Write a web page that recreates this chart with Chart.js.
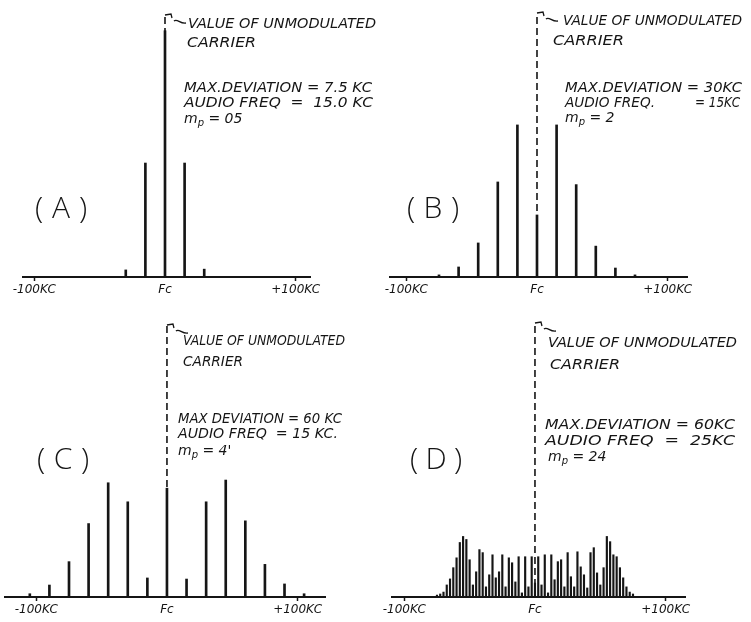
<!DOCTYPE html>
<html><head><meta charset="utf-8">
<script src="https://cdn.jsdelivr.net/npm/chart.js@4.4.1/dist/chart.umd.min.js"></script>
<style>
html,body{margin:0;padding:0;background:#fff;}
#wrap{position:relative;width:751px;height:622px;overflow:hidden;background:#fff;}
#wrap canvas{position:absolute;left:0;top:0;}
</style></head><body><div id="wrap"></div>
<script>
// ---------- DATA ----------
const tickValues = [-100, 0, 100];
const tickLabels = ['-100KC', 'Fc', '+100KC'];

// amplitudes relative to the unmodulated carrier (= 1), frequency offsets in kc
const freqA = [-30, -15, 0, 15, 30];
const ampA  = [0.027, 0.435, 0.94, 0.435, 0.03];

const freqB = [-75, -60, -45, -30, -15, 0, 15, 30, 45, 60, 75];
const ampB  = [0.008, 0.038, 0.129, 0.36, 0.576, 0.235, 0.576, 0.35, 0.117, 0.034, 0.008];

const freqC = [-105, -90, -75, -60, -45, -30, -15, 0, 15, 30, 45, 60, 75, 90, 105];
const ampC  = [0.012, 0.044, 0.13, 0.27, 0.42, 0.35, 0.07, 0.40, 0.066, 0.35, 0.43, 0.28, 0.12, 0.048, 0.012];

const freqD = [-75, -72.5, -70, -67.5, -65, -62.5, -60, -57.5, -55, -52.5, -50, -47.5, -45, -42.5, -40, -37.5,
  -35, -32.5, -30, -27.5, -25, -22.5, -20, -17.5, -15, -12.5, -10, -7.5, -5, -2.5, 0,
  2.5, 5, 7.5, 10, 12.5, 15, 17.5, 20, 22.5, 25, 27.5, 30, 32.5, 35, 37.5, 40, 42.5, 45,
  47.5, 50, 52.5, 55, 57.5, 60, 62.5, 65, 67.5, 70, 72.5, 75];
const ampD  = [0.007, 0.011, 0.018, 0.044, 0.066, 0.107, 0.143, 0.199, 0.221, 0.21, 0.136, 0.044, 0.092, 0.173, 0.162, 0.037,
  0.081, 0.154, 0.07, 0.092, 0.154, 0.037, 0.143, 0.125, 0.055, 0.147, 0.015, 0.147, 0.037, 0.147, 0.051,
  0.147, 0.044, 0.154, 0.015, 0.154, 0.063, 0.129, 0.136, 0.037, 0.162, 0.074, 0.037, 0.165, 0.11, 0.081, 0.033, 0.162,
  0.18, 0.088, 0.044, 0.107, 0.221, 0.202, 0.154, 0.147, 0.107, 0.07, 0.037, 0.018, 0.011];

const carrierLine = [{x: 0, y: 0}, {x: 0, y: 1}];

// ---------- STYLE / LAYOUT ----------
const INK = '#151515';
const TXT = 'italic 14px "DejaVu Sans", sans-serif';

const panels = [
  { letter: 'A', freq: freqA, amp: ampA, xmin: -108.6, xmax: 110.9, bar: 2,
    pad: {left: 23, right: 441, top: 15, bottom: 325},
    lab: {x: 61, y: 209},
    lines: [
      {t: 'VALUE OF UNMODULATED', x: 188, y: 28, w: 188},
      {t: 'CARRIER', x: 187, y: 47, w: 69},
      {t: 'MAX.DEVIATION = 7.5 KC', x: 184, y: 92, w: 188},
      {t: 'AUDIO FREQ  =  15.0 KC', x: 184, y: 107, w: 189},
      {mp: ' = 05', x: 184, y: 123}
    ]},
  { letter: 'B', freq: freqB, amp: ampB, xmin: -112.5, xmax: 114.8, bar: 2,
    pad: {left: 390, right: 64, top: 13, bottom: 325},
    lab: {x: 433, y: 209},
    lines: [
      {t: 'VALUE OF UNMODULATED', x: 563, y: 25, w: 179},
      {t: 'CARRIER', x: 553, y: 45, w: 71},
      {t: 'MAX.DEVIATION = 30KC', x: 565, y: 92, w: 177},
      {t: 'AUDIO FREQ.', x: 565, y: 107, w: 90},
      {t: '= 15KC', x: 695, y: 107, w: 45},
      {mp: ' = 2', x: 565, y: 122}
    ]},
  { letter: 'C', freq: freqC, amp: ampC, xmin: -124, xmax: 121, bar: 2,
    pad: {left: 5, right: 426, top: 325, bottom: 5},
    lab: {x: 63, y: 460},
    lines: [
      {t: 'VALUE OF UNMODULATED', x: 183, y: 345, w: 162},
      {t: 'CARRIER', x: 183, y: 366, w: 60},
      {t: 'MAX DEVIATION = 60 KC', x: 178, y: 423, w: 164},
      {t: 'AUDIO FREQ  = 15 KC.', x: 178, y: 438, w: 160},
      {mp: ' = 4\'', x: 178, y: 455}
    ]},
  { letter: 'D', freq: freqD, amp: ampD, xmin: -109.4, xmax: 114.8, bar: 1.5,
    pad: {left: 392, right: 66, top: 323, bottom: 5},
    lab: {x: 436, y: 460},
    lines: [
      {t: 'VALUE OF UNMODULATED', x: 548, y: 347, w: 189},
      {t: 'CARRIER', x: 550, y: 369, w: 70},
      {t: 'MAX.DEVIATION = 60KC', x: 545, y: 429, w: 190},
      {t: 'AUDIO FREQ  =  25KC', x: 545, y: 445, w: 190},
      {mp: ' = 24', x: 548, y: 461}
    ]}
];

function scaledText(ctx, t, x, y, w) {
  const m = ctx.measureText(t).width;
  ctx.save();
  ctx.translate(x, y);
  ctx.scale(w / m, 1);
  ctx.fillText(t, 0, 0);
  ctx.restore();
}

const notesPlugin = {
  id: 'notes',
  afterDraw(chart, args, opts) {
    const p = opts.panel;
    const ctx = chart.ctx;
    const xs = chart.scales.x, ys = chart.scales.y;
    const cx = xs.getPixelForValue(0), ty = ys.getPixelForValue(1);
    ctx.save();
    ctx.strokeStyle = INK; ctx.fillStyle = INK; ctx.lineWidth = 1.3;
    // hook from carrier top to the note
    ctx.beginPath();
    ctx.moveTo(cx, ty); ctx.lineTo(cx + 6, ty - 1); ctx.lineTo(cx + 7, ty + 3);
    ctx.moveTo(cx + 9, ty + 6);
    ctx.bezierCurveTo(cx + 12, ty + 3, cx + 15, ty + 9, cx + 21, ty + 8);
    ctx.stroke();
    // notes
    ctx.font = TXT; ctx.textBaseline = 'alphabetic'; ctx.textAlign = 'left';
    p.lines.forEach(l => {
      if (l.mp !== undefined) {
        ctx.font = TXT;
        ctx.fillText('m', l.x, l.y);
        const mw = ctx.measureText('m').width;
        ctx.font = 'italic 10px "DejaVu Sans", sans-serif';
        ctx.fillText('p', l.x + mw, l.y + 3);
        const pw = ctx.measureText('p').width;
        ctx.font = TXT;
        ctx.fillText(l.mp, l.x + mw + pw, l.y);
      } else {
        scaledText(ctx, l.t, l.x, l.y, l.w);
      }
    });
    // panel letter
    ctx.font = '300 30px "Open Sans", Roboto, sans-serif';
    ctx.textAlign = 'center'; ctx.textBaseline = 'middle';
    ctx.fillText('(', p.lab.x - 22, p.lab.y);
    ctx.fillText(p.letter, p.lab.x, p.lab.y);
    ctx.fillText(')', p.lab.x + 22, p.lab.y);
    ctx.restore();
  }
};

const wrap = document.getElementById('wrap');
panels.forEach(p => {
  const cv = document.createElement('canvas');
  cv.width = 751; cv.height = 622;
  wrap.appendChild(cv);
  new Chart(cv, {
    type: 'bar',
    data: {
      datasets: [
        { type: 'bar', data: p.freq.map((f, i) => ({x: f, y: p.amp[i]})),
          backgroundColor: INK, borderWidth: 0, barThickness: p.bar, order: 1 },
        { type: 'line', data: carrierLine, borderColor: INK, borderWidth: 1.6,
          borderDash: [7, 4], pointRadius: 0, fill: false, order: 2, clip: false }
      ]
    },
    options: {
      responsive: false, animation: false, devicePixelRatio: 1, events: [],
      layout: { padding: p.pad },
      plugins: { legend: {display: false}, tooltip: {enabled: false}, notes: {panel: p} },
      scales: {
        x: {
          type: 'linear', min: p.xmin, max: p.xmax, offset: false,
          afterBuildTicks: ax => { ax.ticks = tickValues.map(v => ({value: v})); },
          afterFit: ax => { ax.height = 20; },
          ticks: { autoSkip: false, maxRotation: 0, padding: 2, color: INK,
                   font: {family: '"DejaVu Sans", sans-serif', style: 'italic', size: 12},
                   callback: (v, i) => tickLabels[i] },
          grid: { display: true, drawOnChartArea: false, drawTicks: true, offset: false,
                  tickLength: 4, tickWidth: 1.5,
                  tickColor: c => (c.tick && c.tick.value === 0) ? 'rgba(0,0,0,0)' : INK },
          border: { display: true, color: INK, width: 2 }
        },
        y: { display: false, min: 0, max: 1 }
      }
    },
    plugins: [notesPlugin]
  });
});
</script></body></html>
